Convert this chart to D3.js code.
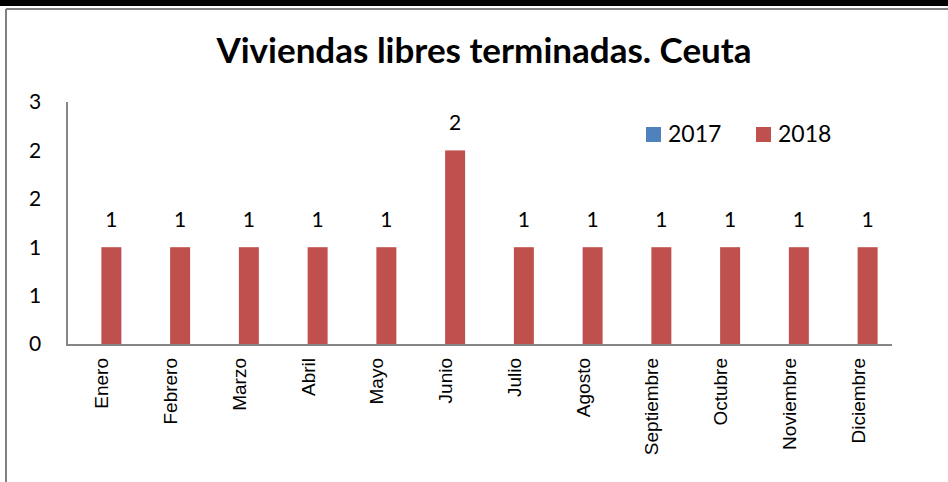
<!DOCTYPE html>
<html><head><meta charset="utf-8">
<script src="https://cdn.jsdelivr.net/npm/d3@7"></script>
<style>body{margin:0;background:#fff}svg{display:block}</style>
</head><body>
<script>
const categories = ["Enero","Febrero","Marzo","Abril","Mayo","Junio","Julio","Agosto","Septiembre","Octubre","Noviembre","Diciembre"];
const seriesNames = ["2017","2018"];
const values2017 = [null,null,null,null,null,null,null,null,null,null,null,null];
const values2018 = [1,1,1,1,1,2,1,1,1,1,1,1];
const tickValues = [0,0.5,1,1.5,2,2.5];
const tickLabels = ["0","1","1","2","2","3"];
const colors = ["#4F81BD","#C0504D"];

const W=948,H=482;
const svg=d3.select("body").append("svg").attr("width",W).attr("height",H);
const font="Lato, 'Open Sans', sans-serif";

// frame
svg.append("rect").attr("x",0).attr("y",0).attr("width",W).attr("height",6).attr("fill","#000");
svg.append("line").attr("x1",6).attr("x2",W).attr("y1",9).attr("y2",9).attr("stroke","#808080").attr("stroke-width",2);
svg.append("line").attr("x1",6).attr("x2",6).attr("y1",9).attr("y2",H).attr("stroke","#808080").attr("stroke-width",2);

const L=67,R=892,T=102,B=344;
const x=d3.scaleBand().domain(categories).range([L,R]);
const xs=d3.scaleBand().domain(seriesNames).range([0,x.bandwidth()]).paddingInner(0).paddingOuter(0.72);
const y=d3.scaleLinear().domain([0,2.5]).range([B,T]);

svg.append("text").attr("x",484).attr("y",63).attr("text-anchor","middle")
  .attr("font-family",font).attr("font-weight","bold").attr("font-size",35).attr("fill","#000")
  .text("Viviendas libres terminadas. Ceuta");

// y tick labels
svg.selectAll(".yt").data(tickValues).enter().append("text")
  .attr("x",35).attr("y",d=>y(d)).attr("dy","0.35em").attr("text-anchor","middle")
  .attr("font-family",font).attr("font-size",21).attr("fill","#000")
  .text((d,i)=>tickLabels[i]);

const series=[values2017,values2018];
series.forEach((vals,si)=>{
  const data=categories.map((c,i)=>({c,v:vals[i]})).filter(d=>d.v!=null);
  svg.selectAll(".bar"+si).data(data).enter().append("rect")
    .attr("x",d=>x(d.c)+xs(seriesNames[si])).attr("width",xs.bandwidth())
    .attr("y",d=>y(d.v)).attr("height",d=>B-y(d.v)).attr("fill",colors[si]);
  svg.selectAll(".lab"+si).data(data).enter().append("text")
    .attr("x",d=>x(d.c)+xs(seriesNames[si])+xs.bandwidth()/2).attr("y",d=>y(d.v)-20)
    .attr("text-anchor","middle").attr("font-family",font).attr("font-size",21).attr("fill","#000")
    .text(d=>d.v);
});

// axes lines
svg.append("line").attr("x1",L).attr("x2",L).attr("y1",T).attr("y2",B+1).attr("stroke","#868686").attr("stroke-width",2);
svg.append("line").attr("x1",L-1).attr("x2",R).attr("y1",B+1).attr("y2",B+1).attr("stroke","#868686").attr("stroke-width",2);

// month labels
svg.selectAll(".ml").data(categories).enter().append("text")
  .attr("transform",d=>`translate(${x(d)+x.bandwidth()/2+7},358) rotate(-90)`)
  .attr("text-anchor","end").attr("font-family","'Liberation Sans', Arial, sans-serif")
  .attr("font-size",19).attr("fill","#000").text(d=>d);

// legend
const lg=[{x:646,name:seriesNames[0],c:colors[0]},{x:756,name:seriesNames[1],c:colors[1]}];
lg.forEach(d=>{
  svg.append("rect").attr("x",d.x).attr("y",127).attr("width",15).attr("height",15).attr("fill",d.c);
  svg.append("text").attr("x",d.x+22).attr("y",142).attr("font-family",font).attr("font-size",23).attr("fill","#000").text(d.name);
});
</script>
</body></html>
